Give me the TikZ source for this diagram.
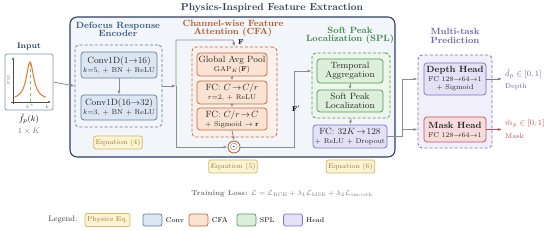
\documentclass[tikz,border=0pt]{standalone}
\usepackage{amsmath,amssymb}
\usepackage{tikz}
\usetikzlibrary{arrows.meta,positioning}
\definecolor{navyframe}{HTML}{2B3F63}
\definecolor{outerfill}{HTML}{F2F5F9}
\definecolor{convfill}{HTML}{DCE6F2}
\definecolor{convline}{HTML}{5B7EA6}
\definecolor{convtitle}{HTML}{3A5A86}
\definecolor{cfafill}{HTML}{FBE3D3}
\definecolor{cfaline}{HTML}{C0683A}
\definecolor{cfatitle}{HTML}{B5582B}
\definecolor{cfagroup}{HTML}{FCF1EA}
\definecolor{splfill}{HTML}{DDEEDA}
\definecolor{splline}{HTML}{4E9A58}
\definecolor{spltitle}{HTML}{3E8A48}
\definecolor{splgroup}{HTML}{EEF6EC}
\definecolor{headfill}{HTML}{E4E1F5}
\definecolor{headline}{HTML}{7A70C2}
\definecolor{headtitle}{HTML}{6A60B2}
\definecolor{headgroup}{HTML}{F0EFFA}
\definecolor{maskfill}{HTML}{F7DCDC}
\definecolor{maskline}{HTML}{C05555}
\definecolor{eqfill}{HTML}{FDF4D6}
\definecolor{eqline}{HTML}{D4B65C}
\definecolor{eqtext}{HTML}{A07D22}
\definecolor{arrowgrey}{HTML}{8C8C8C}
\definecolor{curveorange}{HTML}{E8782A}
\definecolor{peakgreen}{HTML}{7DBE7D}
\definecolor{lossgrey}{HTML}{777777}
\tikzset{
  stage-frame/.style={draw=navyframe, fill=outerfill, rounded corners=7pt, line width=1.1pt},
  stage-group/.style={dashed, rounded corners=4pt, line width=0.8pt, dash pattern=on 3pt off 2pt},
  stage-title/.style={font=\bfseries\small, align=center, inner sep=0pt},
  block/.style={rounded corners=3pt, line width=0.7pt, align=center, inner sep=1pt,
    font=\small, text=black!85},
  conv-block/.style={block, draw=convline, fill=convfill},
  cfa-block/.style={block, draw=cfaline, fill=cfafill},
  spl-block/.style={block, draw=splline, fill=splfill},
  head-block/.style={block, draw=headline, fill=headfill},
  mask-block/.style={block, draw=maskline, fill=maskfill},
  eq-badge/.style={draw=eqline, fill=eqfill, rounded corners=2pt, line width=0.7pt,
    text=eqtext, font=\scriptsize, minimum width=1.7cm, minimum height=0.45cm, inner sep=1pt},
  swatch/.style={rounded corners=2pt, line width=0.7pt, minimum width=0.66cm, minimum height=0.42cm},
  flow/.style={draw=arrowgrey, line width=0.8pt, -{Latex[length=4pt,width=3pt]}}
}

\begin{document}
\begin{tikzpicture}[x=0.035cm, y=-0.035cm]
  \useasboundingbox (0,0) rectangle (550,231);
  \node[stage-title, font=\bfseries\normalsize, text=navyframe] (title) at (272,8) {Physics-Inspired Feature Extraction};
  \node[stage-frame, minimum width=11.375cm, minimum height=4.9cm] (outer) at (232.5,87) {};

  \node[stage-title, text=navyframe] (input-title) at (29,47) {\footnotesize Input};
  \node[draw=convline!80, fill=white, rounded corners=2pt, line width=0.7pt,
    minimum width=1.68cm, minimum height=1.96cm] (input) at (29,82) {};
  \draw[black!70, line width=0.5pt, -{Latex[length=2.5pt,width=2pt]}] (11,102) -- (51,102);
  \draw[black!70, line width=0.5pt, -{Latex[length=2.5pt,width=2pt]}] (13,104) -- (13,57);
  \draw[peakgreen, dashed, line width=0.7pt] (30,63) -- (30,102);
  \draw[curveorange, line width=1pt, domain=15:46, samples=50, smooth]
    plot (\x, {100 - 38/(1 + ((\x-30)/4.5)^2)});
  \node[font=\fontsize{4}{4}\selectfont, text=black!60, rotate=90] (psi) at (8.5,80) {PSI};
  \node[font=\fontsize{4}{4}\selectfont, text=peakgreen!80!black] (kstar) at (30,106.5) {$k^*$};
  \node[font=\fontsize{4}{4}\selectfont, text=black!60] (kaxis) at (47,106.5) {$k$};
  \node[font=\footnotesize, inner sep=0pt] (fp) at (29,118.5) {$\tilde{f}_p(k)$};
  \node[font=\footnotesize, text=lossgrey, inner sep=0pt] (fp-size) at (29,131) {$1\times K$};

  \node[stage-title, text=convtitle] (enc-title) at (118,29.5) {Defocus Response\\[-2.5pt]Encoder};
  \node[stage-group, draw=convline, minimum width=3.045cm, minimum height=2.87cm] (enc-group) at (118.5,86) {};
  \node[conv-block, minimum width=2.66cm, minimum height=0.91cm] (conv1) at (119,65)
    {Conv1D(1$\rightarrow$16)\\[-2pt]{\scriptsize $k$=5, + BN + ReLU}};
  \node[conv-block, minimum width=2.66cm, minimum height=0.875cm] (conv2) at (119,107.5)
    {Conv1D(16$\rightarrow$32)\\[-2pt]{\scriptsize $k$=3, + BN + ReLU}};
  \node[eq-badge] (eq4) at (118,142.5) {Equation (4)};

  \node[stage-title, text=cfatitle] (cfa-title) at (233,28.5) {Channel-wise Feature\\[-2.5pt]Attention (CFA)};
  \node[stage-group, draw=cfaline, fill=cfagroup, minimum width=2.975cm, minimum height=3.15cm] (cfa-group) at (234.5,92) {};
  \node[cfa-block, minimum width=2.45cm, minimum height=0.805cm] (gap) at (232,64.5)
    {Global Avg Pool\\[-2pt]{\scriptsize GAP$_K(\mathbf{F})$}};
  \node[cfa-block, minimum width=2.45cm, minimum height=0.805cm] (fc-reduce) at (232,92.5)
    {FC: $C\!\rightarrow\! C/r$\\[-2pt]{\scriptsize $r$=2, + ReLU}};
  \node[cfa-block, minimum width=2.45cm, minimum height=0.77cm] (fc-expand) at (232,119)
    {FC: $C/r\!\rightarrow\! C$\\[-2pt]{\scriptsize + Sigmoid $\rightarrow\mathbf{r}$}};
  \node[circle, draw=cfaline, fill=white, line width=0.9pt, minimum size=0.42cm, inner sep=0pt] (odot) at (234,147) {$\odot$};
  \node[eq-badge] (eq5) at (233,166.5) {Equation (5)};

  \node[stage-title, text=spltitle] (spl-title) at (350,35.5) {Soft Peak\\[-2.5pt]Localization (SPL)};
  \node[stage-group, draw=splline, fill=splgroup, minimum width=2.73cm, minimum height=2.275cm] (spl-group) at (351,85.5) {};
  \node[spl-block, minimum width=2.31cm, minimum height=0.84cm] (temporal) at (350,71) {Temporal\\[-2pt]Aggregation};
  \node[spl-block, minimum width=2.31cm, minimum height=0.77cm] (softpeak) at (350,101) {Soft Peak\\[-2pt]Localization};
  \node[head-block, minimum width=2.59cm, minimum height=0.805cm] (fc-spl) at (350,136.5)
    {FC: $32K\!\rightarrow\!128$\\[-2pt]{\scriptsize + ReLU + Dropout}};
  \node[eq-badge] (eq6) at (350.5,166.5) {Equation (6)};

  \node[stage-title, text=headtitle] (head-title) at (455,36) {Multi-task\\[-2.5pt]Prediction};
  \node[stage-group, draw=headline, fill=headgroup, minimum width=2.59cm, minimum height=3.255cm] (head-group) at (455,101.5) {};
  \node[head-block, minimum width=2.17cm, minimum height=1.12cm] (depth) at (455,79)
    {\textbf{Depth Head}\\[-2pt]{\scriptsize FC 128$\rightarrow$64$\rightarrow$1}\\[-3pt]{\scriptsize + Sigmoid}};
  \node[mask-block, minimum width=2.17cm, minimum height=0.875cm] (mask) at (455,129.5)
    {\textbf{Mask Head}\\[-2pt]{\scriptsize FC 128$\rightarrow$64$\rightarrow$1}};
  \coordinate (depth-out) at (502,79);
  \coordinate (mask-out) at (502,129.5);
  \node[font=\footnotesize, text=headtitle, anchor=west, inner sep=0pt] (depth-label) at (505,74) {$\hat{d}_p\in[0,1]$};
  \node[font=\scriptsize, text=headtitle, anchor=west, inner sep=0pt] (depth-name) at (505,86.5) {Depth};
  \node[font=\footnotesize, text=maskline, anchor=west, inner sep=0pt] (mask-label) at (505,124) {$\hat{m}_p\in[0,1]$};
  \node[font=\scriptsize, text=maskline, anchor=west, inner sep=0pt] (mask-name) at (505,136.5) {Mask};

  \coordinate (split) at (176,86);
  \draw[flow] (input.east) -- (enc-group.west);
  \draw[flow] (conv1.south) -- (conv2.north);
  \draw[flow] (enc-group.east) -- (split);
  \draw[flow] (split) |- ++(57,-46) -- (cfa-group.north);
  \node[font=\scriptsize] (f-label) at (241,42) {$\mathbf{F}$};
  \draw[flow] (split) |- (odot.west);
  \draw[flow] (gap.south) -- (fc-reduce.north);
  \draw[flow] (fc-reduce.south) -- (fc-expand.north);
  \draw[flow] (fc-expand.south) -- (odot.north);
  \draw[flow] (odot.east) -- ++(54,0) |- (spl-group.west |- temporal.west);
  \node[font=\scriptsize] (fprime-label) at (296,109) {$\mathbf{F}'$};
  \draw[flow] (temporal.south) -- (softpeak.north);
  \draw[flow] (spl-group.south) -- (fc-spl.north);
  \draw[flow] (fc-spl.east) -- ++(15,0) |- (head-group.west |- depth.west);
  \draw[flow] (fc-spl.east) -- ++(15,0) |- (head-group.west |- mask.west);
  \draw[flow, draw=headline] (depth.east) -- (depth-out);
  \draw[flow, draw=maskline] (mask.east) -- (mask-out);

  \node[font=\scriptsize, text=lossgrey] (loss) at (282,194)
    {\textbf{Training Loss:} $\mathcal{L}=\mathcal{L}_{\text{BCE}}+\lambda_1\mathcal{L}_{\text{MSE}}+\lambda_2\mathcal{L}_{\text{smooth}}$};

  \node[font=\footnotesize, text=black!75] (legend) at (63,220) {Legend:};
  \node[eq-badge, minimum width=1.58cm, minimum height=0.45cm] (leg-eq) at (107.5,220) {Physics Eq.};
  \node[swatch, draw=convline, fill=convfill] (leg-conv) at (152.5,220) {};
  \node[font=\scriptsize, anchor=west] (leg-conv-text) at (leg-conv.east) {Conv};
  \node[swatch, draw=cfaline, fill=cfafill] (leg-cfa) at (198.5,220) {};
  \node[font=\scriptsize, anchor=west] (leg-cfa-text) at (leg-cfa.east) {CFA};
  \node[swatch, draw=splline, fill=splfill] (leg-spl) at (246.5,220) {};
  \node[font=\scriptsize, anchor=west] (leg-spl-text) at (leg-spl.east) {SPL};
  \node[swatch, draw=headline, fill=headfill] (leg-head) at (293,220) {};
  \node[font=\scriptsize, anchor=west] (leg-head-text) at (leg-head.east) {Head};
\end{tikzpicture}
\end{document}
